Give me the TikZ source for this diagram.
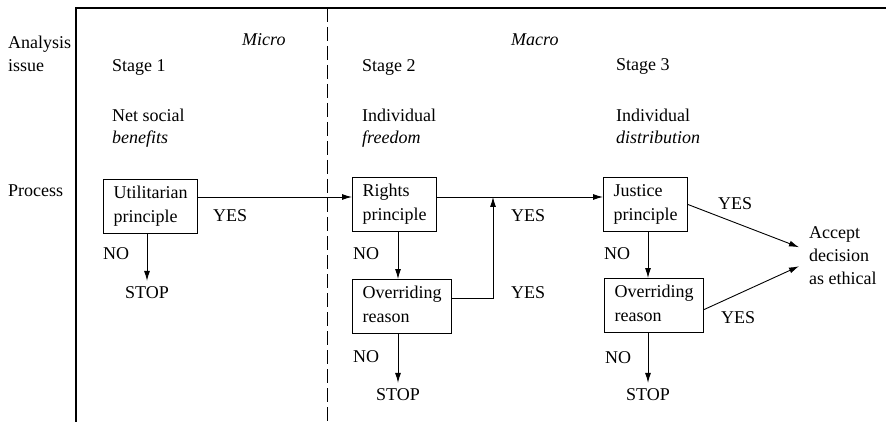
\documentclass[tikz,border=0pt]{standalone}
\usepackage{fontspec}
\setmainfont{Liberation Serif}
\usetikzlibrary{arrows.meta,calc}
% strut of cap/ascender height and descender depth for box lines
\newcommand\bl{\vphantom{Ulp}}
\begin{document}
\begin{tikzpicture}[x=1pt,y=-1pt,
  every node/.style={font=\fontsize{18}{23}\selectfont, inner sep=0pt},
  txt/.style={anchor=base west},
  head/.style={anchor=north west, align=left},
  box/.style={draw, line width=1.1pt, anchor=north west, align=left,
    font=\fontsize{18}{24}\selectfont, inner xsep=10pt, inner ysep=0pt,
    minimum height=54pt},
  stoplbl/.style={anchor=base, inner ysep=5pt},
  arr/.style={line width=0.9pt, -{Latex[length=10pt,width=6pt]}},
  frame/.style={line width=1.2pt},
  divider/.style={line width=0.9pt, dash pattern=on 14pt off 5pt}]
\useasboundingbox (0,0) rectangle (886,422);

% frame and micro/macro divider
\draw[frame] (76,422) -- (76,8) -- (886,8);
\draw[divider] (327,8) -- (327,422);

% row labels
\node[txt] (analysis) at (8,49) {Analysis};
\node[txt] (issue) at (8,72) {issue};
\node[txt] (process) at (8,197) {Process};

% column headings
\node[txt] (micro) at (242,46) {\itshape Micro};
\node[txt] (macro) at (511,46) {\itshape Macro};
\node[txt] (stage1) at (112,72) {Stage 1};
\node[txt] (stage2) at (362,72) {Stage 2};
\node[txt] (stage3) at (616,71) {Stage 3};
\node[txt] (crit1a) at (112,122) {Net social};
\node[txt] (crit1b) at (112,144) {\itshape benefits};
\node[txt] (crit2a) at (362,122) {Individual};
\node[txt] (crit2b) at (362,144) {\itshape freedom};
\node[txt] (crit3a) at (616,122) {Individual};
\node[txt] (crit3b) at (616,144) {\itshape distribution};

% decision boxes
\node[box] (util) at (103,179) {\bl Utilitarian\\\bl principle};
\node[box] (rights) at (352,177) {\bl Rights\\\bl principle};
\node[box] (over2) at (352,279) {\bl Overriding\\\bl reason};
\node[box] (justice) at (603,177) {\bl Justice\\\bl principle};
\node[box] (over3) at (604,278) {\bl Overriding\\\bl reason};

% end points
\node[stoplbl] (stop1) at (147,298) {STOP};
\node[stoplbl] (stop2) at (398,400) {STOP};
\node[stoplbl] (stop3) at (648,400) {STOP};
\node[head] (accept) at (809,226) {Accept\\decision\\as ethical};

% branch labels
\node[txt] (no1) at (103,259) {NO};
\node[txt] (no2) at (353,259) {NO};
\node[txt] (no3) at (353,362) {NO};
\node[txt] (no4) at (604,259) {NO};
\node[txt] (no5) at (605,363) {NO};
\node[txt] (yes1) at (213,222) {YES};
\node[txt] (yes2) at (511,222) {YES};
\node[txt] (yes3) at (511,298) {YES};
\node[txt] (yes4) at (718,210) {YES};
\node[txt] (yes5) at (721,323) {YES};

% connectors
\coordinate (row) at (0,197);
\coordinate (loop) at (493,197);
\draw[arr] (util.east |- row) -- (rights.west |- row);
\draw[arr] (rights.east |- row) -- (justice.west |- row);
\draw[arr] (util.south -| stop1) -- (stop1.north);
\draw[arr] (rights.south -| stop2) -- (over2.north -| stop2);
\draw[arr] (over2.south -| stop2) -- (stop2.north);
\draw[arr] ($(over2.north east)+(0,19)$) -| (loop);
\draw[arr] (justice.south -| stop3) -- (over3.north -| stop3);
\draw[arr] (over3.south -| stop3) -- (stop3.north);
\draw[arr] (justice.east) -- ($(accept.west)+(-10,-8)$);
\draw[arr] ($(over3.east)+(0,4)$) -- ($(accept.west)+(-10,11)$);
\end{tikzpicture}
\end{document}
